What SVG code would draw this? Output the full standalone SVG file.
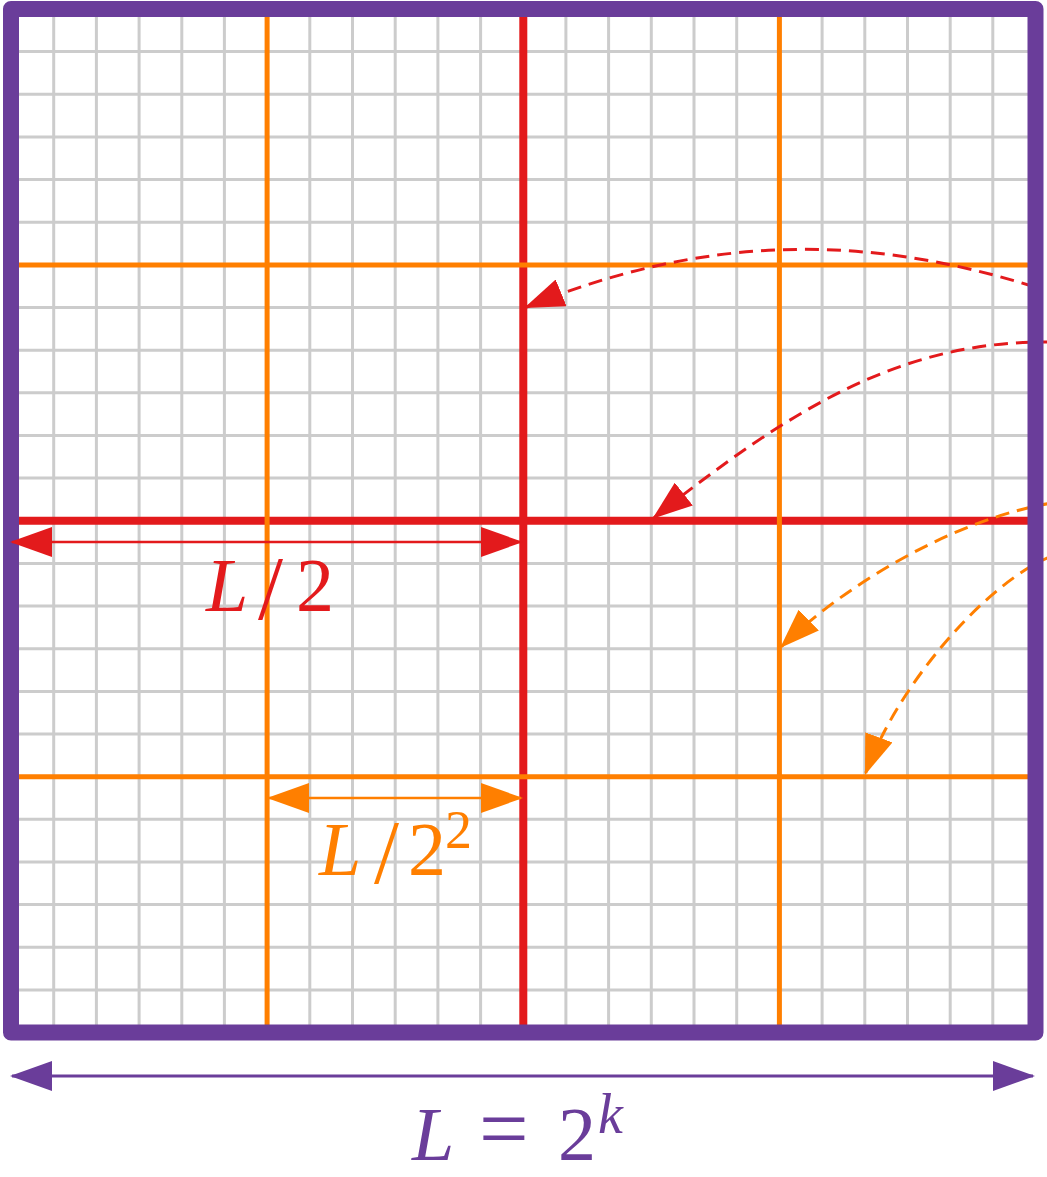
<svg xmlns="http://www.w3.org/2000/svg" width="1047" height="1177" viewBox="0 0 1047 1177">
<style>
.grid{stroke:#cccccc;stroke-width:3;fill:none}
.red{stroke:#e31a1c;fill:none}
.org{stroke:#ff7f00;fill:none}
.pur{stroke:#6a3d9a;fill:none}
.dash{stroke-width:3;stroke-dasharray:14 8}
.lbl{font-family:"Liberation Serif","DejaVu Serif",serif;font-size:76px}
.it{font-style:italic}
.sl{font-size:90px}
</style>
<defs>
<marker id="mR" markerUnits="userSpaceOnUse" viewBox="0 0 42 30" markerWidth="42" markerHeight="30" refX="40" refY="15" orient="auto-start-reverse"><path d="M0,0 L42,15 L0,30 Z" fill="#e31a1c"/></marker>
<marker id="mO" markerUnits="userSpaceOnUse" viewBox="0 0 42 30" markerWidth="42" markerHeight="30" refX="40" refY="15" orient="auto-start-reverse"><path d="M0,0 L42,15 L0,30 Z" fill="#ff7f00"/></marker>
<marker id="mP" markerUnits="userSpaceOnUse" viewBox="0 0 42 30" markerWidth="42" markerHeight="30" refX="40" refY="15" orient="auto-start-reverse"><path d="M0,0 L42,15 L0,30 Z" fill="#6a3d9a"/></marker>
<marker id="cR" markerUnits="userSpaceOnUse" viewBox="0 0 40 29" markerWidth="40" markerHeight="29" refX="38" refY="14.5" orient="auto"><path d="M0,0 L40,14.5 L0,29 Z" fill="#e31a1c"/></marker>
<marker id="cO" markerUnits="userSpaceOnUse" viewBox="0 0 40 29" markerWidth="40" markerHeight="29" refX="38" refY="14.5" orient="auto"><path d="M0,0 L40,14.5 L0,29 Z" fill="#ff7f00"/></marker>
</defs>
<rect width="1047" height="1177" fill="#ffffff"/>
<g id="grid" class="grid">
<path d="M53.7,9V1032.5M96.4,9V1032.5M139.1,9V1032.5M181.8,9V1032.5M224.4,9V1032.5M309.8,9V1032.5M352.5,9V1032.5M395.2,9V1032.5M437.9,9V1032.5M480.6,9V1032.5M565.9,9V1032.5M608.6,9V1032.5M651.3,9V1032.5M694,9V1032.5M736.7,9V1032.5M822.1,9V1032.5M864.8,9V1032.5M907.5,9V1032.5M950.2,9V1032.5M992.8,9V1032.5"/>
<path d="M11,51.6H1035.5M11,94.3H1035.5M11,136.9H1035.5M11,179.6H1035.5M11,222.3H1035.5M11,307.5H1035.5M11,350.2H1035.5M11,392.8H1035.5M11,435.5H1035.5M11,478.1H1035.5M11,563.4H1035.5M11,606.1H1035.5M11,648.7H1035.5M11,691.4H1035.5M11,734H1035.5M11,819.3H1035.5M11,861.9H1035.5M11,904.6H1035.5M11,947.2H1035.5M11,989.9H1035.5"/>
</g>
<g id="level1" class="red" stroke-width="8">
<path d="M523.3,9V1032.5M11,520.8H1035.5"/>
</g>
<g id="level2" class="org" stroke-width="5">
<path d="M267.1,9V1032.5M779.4,9V1032.5M11,264.9H1035.5M11,776.7H1035.5"/>
</g>
<g id="connectors">
<path class="red dash" d="M1035,287 C860,232 700,236 526,307.3" marker-end="url(#cR)"/>
<path class="red dash" d="M1052,342 C900,340 790,410 654,517.6" marker-end="url(#cR)"/>
<path class="org dash" d="M1052,503 C960,518 850,580 781.5,646.6" marker-end="url(#cO)"/>
<path class="org dash" d="M1052,556 C990,580 900,680 865.7,773" marker-end="url(#cO)"/>
</g>
<g id="border">
<rect x="11" y="9" width="1024.5" height="1023.5" class="pur" stroke-width="16" stroke-linejoin="round"/>
</g>
<g id="dim-L2">
<path class="red" stroke-width="2.5" d="M12,542H521" marker-start="url(#mR)" marker-end="url(#mR)"/>
<text class="lbl" fill="#e31a1c" y="611"><tspan class="it" x="206">L</tspan><tspan class="sl" x="258" y="619">/</tspan><tspan x="296" y="611">2</tspan></text>
</g>
<g id="dim-L4">
<path class="org" stroke-width="2.5" d="M269,798H521" marker-start="url(#mO)" marker-end="url(#mO)"/>
<text class="lbl" fill="#ff7f00" y="875"><tspan class="it" x="319">L</tspan><tspan class="sl" x="374" y="883">/</tspan><tspan x="408" y="875">2</tspan><tspan x="445" y="848" font-size="54">2</tspan></text>
</g>
<g id="dim-L">
<path class="pur" stroke-width="3" d="M12,1076H1033" marker-start="url(#mP)" marker-end="url(#mP)"/>
<text class="lbl" fill="#6a3d9a" y="1160"><tspan class="it" x="412">L</tspan><tspan x="479" font-size="88" dy="-2">=</tspan><tspan x="558" y="1160">2</tspan><tspan class="it" x="598" y="1133" font-size="56">k</tspan></text>
</g>
</svg>
